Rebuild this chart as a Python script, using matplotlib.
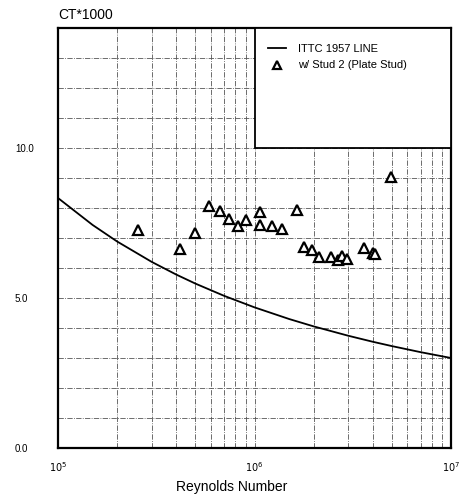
import numpy as np
import matplotlib
matplotlib.use("Agg")
import matplotlib.pyplot as plt
from matplotlib.patches import Rectangle
from matplotlib.ticker import FixedLocator, NullFormatter

plt.rcParams['font.family'] = ['Liberation Sans Narrow', 'Liberation Sans', 'DejaVu Sans']

# ITTC 1957 friction line, CT*1000 vs Reynolds number
ittc_re = [1e5, 1.5e5, 2e5, 3e5, 4e5, 5e5, 7e5, 1e6, 1.5e6, 2e6, 3e6, 4e6, 5e6, 7e6, 1e7]
ittc_ct = [8.333, 7.435, 6.883, 6.203, 5.780, 5.481, 5.073, 4.688, 4.300,
           4.054, 3.742, 3.541, 3.397, 3.195, 3.000]

# measured points: w/ Stud 2 (Plate Stud)
stud_re = [2.54e5, 4.18e5, 5.0e5, 5.85e5, 6.65e5, 7.45e5, 8.2e5, 9.05e5,
           1.07e6, 1.07e6, 1.23e6, 1.38e6, 1.64e6, 1.79e6, 1.96e6, 2.13e6,
           2.45e6, 2.65e6, 2.78e6, 2.95e6, 3.6e6, 3.99e6, 4.1e6, 4.93e6]
stud_ct = [7.27, 6.62, 7.16, 8.07, 7.91, 7.63, 7.40, 7.60,
           7.86, 7.42, 7.40, 7.31, 7.94, 6.71, 6.60, 6.37,
           6.36, 6.28, 6.39, 6.30, 6.68, 6.51, 6.48, 9.02]

fig = plt.figure(figsize=(4.61, 4.99), dpi=100)
ax = fig.add_axes([58 / 461, 51 / 499, 393 / 461, 420 / 499])

ax.plot(ittc_re, ittc_ct, color='black', lw=1.3, label='ITTC 1957 LINE', zorder=3)
ax.plot(stud_re, stud_ct, linestyle='none', marker='^', ms=7, mfc='white',
        mec='black', mew=1.6, label='w/ Stud 2 (Plate Stud)', zorder=4)

ax.set_xscale('log')
ax.set_xlim(1e5, 1e7)
ax.set_ylim(0, 14)

# grid: every decade subdivision in x, every unit in y
ax.xaxis.set_major_locator(FixedLocator([1e5, 1e6, 1e7]))
ax.xaxis.set_minor_locator(FixedLocator([m * 10 ** e for e in (5, 6) for m in range(2, 10)]))
ax.xaxis.set_minor_formatter(NullFormatter())
ax.set_xticklabels(['$10^{5}$', '$10^{6}$', '$10^{7}$'], fontsize=7)
ax.set_yticks(range(0, 15))
ax.set_yticklabels(['0.0' if v == 0 else '5.0' if v == 5 else '10.0' if v == 10 else ''
                    for v in range(0, 15)], fontsize=7, ha='left')
ax.tick_params(axis='both', which='both', length=0)
ax.tick_params(axis='y', pad=31)
ax.tick_params(axis='x', pad=9)
ax.grid(True, which='both', linestyle='-.', color='#555555', lw=0.6)

for s in ax.spines.values():
    s.set_linewidth(1.6)

# legend box covering upper-right corner
ax.add_patch(Rectangle((0.5, 10 / 14), 0.5, 4 / 14, transform=ax.transAxes,
                       facecolor='white', edgecolor='black', lw=1.3, zorder=5))
leg = ax.legend(loc='upper left', bbox_to_anchor=(0.51, 0.985), frameon=False,
                fontsize=8, handlelength=1.6, handletextpad=1.1, labelspacing=0.55,
                markerscale=0.75)
leg.set_zorder(6)

ax.set_xlabel('Reynolds Number', fontsize=10)
ax.xaxis.set_label_coords((232 - 58) / 393, -0.075)
fig.text(58 / 461, 1 - 15 / 499, 'CT*1000', fontsize=10, va='center', ha='left')

fig.savefig('out.png', dpi=100)
